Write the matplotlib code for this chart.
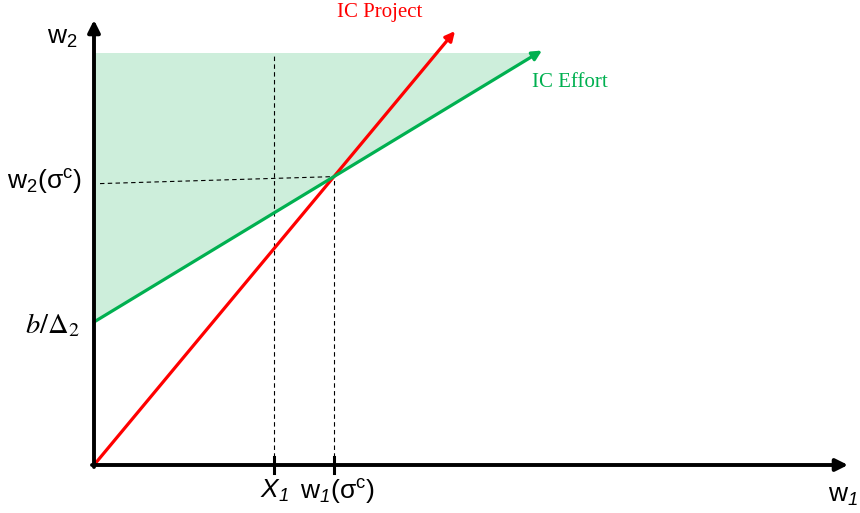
import matplotlib
matplotlib.use("Agg")
import matplotlib.pyplot as plt
from matplotlib.patches import Polygon

plt.rcParams["mathtext.fontset"] = "custom"
plt.rcParams["mathtext.rm"] = "Liberation Sans"
plt.rcParams["mathtext.it"] = "Liberation Sans:italic"
plt.rcParams["mathtext.sf"] = "Liberation Sans:italic"

# Model parameters (axis units)
b_over_delta2 = 1.43      # intercept of the IC Effort line
slope_effort = 0.606      # slope of IC Effort
slope_project = 1.202     # slope of IC Project (through the origin)
x1_value = 1.80           # X_1 marker on the w1 axis
w2_top = 4.12             # upper edge of the feasible region
project_tip_x = 3.61      # where the IC Project arrow ends
effort_tip_x = 4.48       # where the IC Effort arrow ends
axis_x_max = 7.54
axis_y_max = 4.45

GREEN = "#00b050"
RED = "#ff0000"
SHADE = "#cdeedb"

fig = plt.figure(figsize=(8.6, 5.13), dpi=100)
ax = fig.add_axes([0, 0, 1, 1])
ax.set_xlim(-0.94, 7.66)
ax.set_ylim(-0.48, 4.65)
ax.axis("off")

# Intersection of the two incentive constraints
xi = b_over_delta2 / (slope_project - slope_effort)
yi = slope_project * xi

# Region above IC Effort
x_top = (w2_top - b_over_delta2) / slope_effort
ax.add_patch(Polygon([(0, b_over_delta2), (0, w2_top), (x_top, w2_top)],
                     closed=True, facecolor=SHADE, edgecolor="none", zorder=1))

# Dashed guide lines
dash = dict(color="black", lw=0.8, ls=(0, (4, 3)), zorder=2)
ax.plot([x1_value, x1_value], [0, w2_top], **dash)
ax.plot([xi, xi], [0, yi], **dash)
ax.plot([0.06, xi], [yi - 0.07, yi], **dash)

# IC lines with arrow heads
ax.annotate("", xy=(project_tip_x, slope_project * project_tip_x), xytext=(0, 0),
            arrowprops=dict(arrowstyle="-|>", color=RED, lw=2.3, mutation_scale=14,
                            shrinkA=0, shrinkB=0), zorder=3)
ax.annotate("", xy=(effort_tip_x, b_over_delta2 + slope_effort * effort_tip_x),
            xytext=(0, b_over_delta2),
            arrowprops=dict(arrowstyle="-|>", color=GREEN, lw=2.3, mutation_scale=14,
                            shrinkA=0, shrinkB=0), zorder=3)

# Axes
ax.annotate("", xy=(axis_x_max, 0), xytext=(-0.02, 0),
            arrowprops=dict(arrowstyle="-|>", color="black", lw=2.8, mutation_scale=18,
                            shrinkA=0, shrinkB=0), zorder=4)
ax.annotate("", xy=(0, axis_y_max), xytext=(0, -0.02),
            arrowprops=dict(arrowstyle="-|>", color="black", lw=2.8, mutation_scale=18,
                            shrinkA=0, shrinkB=0), zorder=4)

# Tick marks on the w1 axis
for xt in (x1_value, xi):
    ax.plot([xt, xt], [-0.08, 0.08], color="black", lw=2.2, zorder=4)

# Labels
sans = dict(fontsize=19, color="black")
ax.text(-0.32, 4.28, r"$\mathrm{w}_2$", ha="center", va="center", **sans)
ax.text(-0.12, 2.84, r"$\mathrm{w}_2(\mathrm{\sigma}^\mathrm{c})$", ha="right", va="center", **sans)
ax.text(-0.14, 1.40, r"$b/\Delta_2$", ha="right", va="center", fontsize=20.5,
        math_fontfamily="stix")
ax.text(x1_value, -0.26, r"$\mathit{X}_{\mathsf{1}}$", ha="center", va="center", **sans)
ax.text(xi + 0.03, -0.26, r"$\mathrm{w}_{\mathsf{1}}(\mathrm{\sigma}^\mathrm{c})$",
        ha="center", va="center", **sans)
ax.text(7.49, -0.30, r"$\mathrm{w}_{\mathsf{1}}$", ha="center", va="center", **sans)
ax.text(2.86, 4.53, "IC Project", ha="center", va="center", color=RED,
        fontsize=15, family="Liberation Serif")
ax.text(4.76, 3.83, "IC Effort", ha="center", va="center", color=GREEN,
        fontsize=15, family="Liberation Serif")

fig.savefig("out.png", dpi=100)
